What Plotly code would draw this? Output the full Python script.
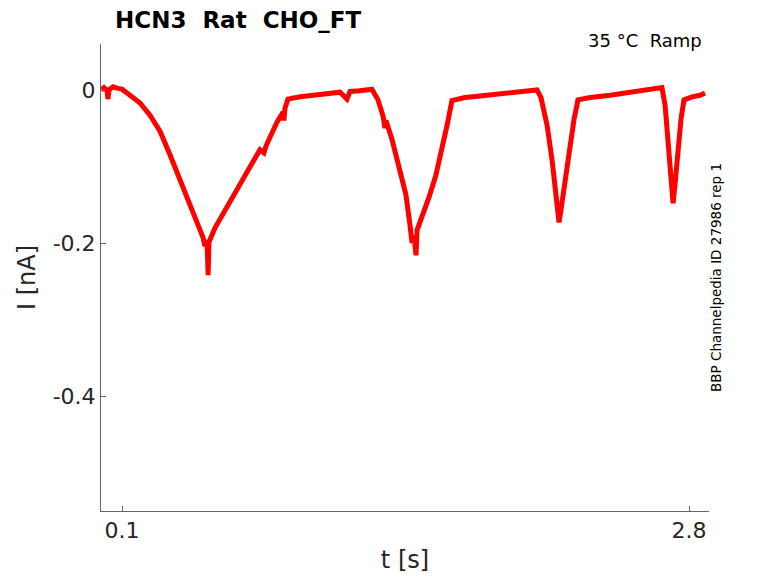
import plotly.graph_objects as go

# values (time in s, current in nA)
t_s = [0.0, 0.014, 0.029, 0.033, 0.038, 0.057, 0.081, 0.1,
       0.138, 0.186, 0.233, 0.281, 0.329, 0.376, 0.424, 0.462, 0.486, 0.495, 0.505, 0.510, 0.514,
       0.543, 0.581, 0.624, 0.662, 0.710, 0.757, 0.776, 0.786, 0.838, 0.867, 0.871, 0.876, 0.890,
       0.948, 1.043, 1.138, 1.171, 1.186, 1.233, 1.290,
       1.319, 1.343, 1.352, 1.357, 1.386, 1.419, 1.452, 1.471, 1.481, 1.490, 1.500, 1.505,
       1.533, 1.562, 1.595, 1.624, 1.648, 1.671,
       1.733, 1.805, 1.900, 1.995, 2.076,
       2.095, 2.124, 2.148, 2.167, 2.181, 2.190,
       2.210, 2.233, 2.252, 2.271,
       2.329, 2.424, 2.519, 2.614, 2.671,
       2.686, 2.700, 2.714, 2.724, 2.733,
       2.748, 2.762, 2.776,
       2.814, 2.852, 2.876]
i_na = [0.0, 0.003, -0.001, -0.012, 0.0, 0.004, 0.002, 0.001,
        -0.007, -0.017, -0.033, -0.054, -0.085, -0.118, -0.148, -0.176, -0.193, -0.204, -0.196, -0.242, -0.199,
        -0.180, -0.162, -0.141, -0.122, -0.098, -0.078, -0.082, -0.073, -0.042, -0.029, -0.040, -0.024, -0.012,
        -0.009, -0.006, -0.003, -0.012, -0.002, -0.001, 0.001,
        -0.013, -0.034, -0.050, -0.040, -0.065, -0.098, -0.137, -0.176, -0.200, -0.190, -0.216, -0.183,
        -0.163, -0.140, -0.111, -0.078, -0.046, -0.014,
        -0.010, -0.008, -0.005, -0.003, 0.0,
        -0.010, -0.046, -0.092, -0.137, -0.173, -0.157,
        -0.118, -0.072, -0.039, -0.013,
        -0.010, -0.007, -0.003, 0.0, 0.003,
        -0.020, -0.065, -0.118, -0.148, -0.124,
        -0.078, -0.037, -0.013,
        -0.009, -0.007, -0.004]

x_ticks = [0.1, 2.8]
y_ticks = [0, -0.2, -0.4]
y_labels = ["0", "-0.2", "-0.4"]

fig = go.Figure()
fig.add_trace(go.Scatter(x=t_s, y=i_na, mode="lines",
                         line=dict(color="#ff0000", width=5), showlegend=False))

font = "DejaVu Sans"
axis_common = dict(showgrid=False, zeroline=False, showline=True, linecolor="#666666",
                   linewidth=1, ticks="inside", ticklen=5, tickcolor="#666666",
                   tickfont=dict(family=font, size=22, color="#262626"), mirror=False)

fig.update_xaxes(range=[0.0, 2.895], tickvals=x_ticks, ticktext=["0.1", "2.8"],
                 title=dict(text="t [s]", font=dict(family=font, size=24, color="#262626"),
                            standoff=8),
                 **axis_common)
fig.update_yaxes(range=[-0.55, 0.06], tickvals=y_ticks, ticktext=y_labels,
                 title=dict(text="I [nA]", font=dict(family=font, size=24, color="#262626"),
                            standoff=10),
                 **axis_common)

# page body has an 8 px margin, so the figure is drawn 8 px smaller and offset
fig.update_layout(
    width=770, height=575,
    margin=dict(l=93, r=69, t=36, b=72, autoexpand=False),
    plot_bgcolor="white", paper_bgcolor="white",
    annotations=[
        dict(text="<b>HCN3\u00a0\u00a0Rat\u00a0\u00a0CHO_FT</b>", xref="paper", yref="paper",
             x=(113 - 101) / 608, y=1 + (44 - 20) / 467, xanchor="left", yanchor="middle",
             showarrow=False, font=dict(family=font, size=23, color="black")),
        dict(text="35 °C\u00a0\u00a0Ramp", xref="paper", yref="paper", x=(704 - 101) / 608,
             y=1 + 3 / 467, xanchor="right", yanchor="middle", showarrow=False,
             font=dict(family=font, size=18, color="black")),
        dict(text="BBP Channelpedia ID 27986 rep 1", xref="paper", yref="paper",
             x=(716 - 101) / 608, y=(511 - 278) / 467, xanchor="center", yanchor="middle",
             textangle=-90, showarrow=False, font=dict(family=font, size=13.5, color="black")),
    ],
)

fig.write_html("out.html")
